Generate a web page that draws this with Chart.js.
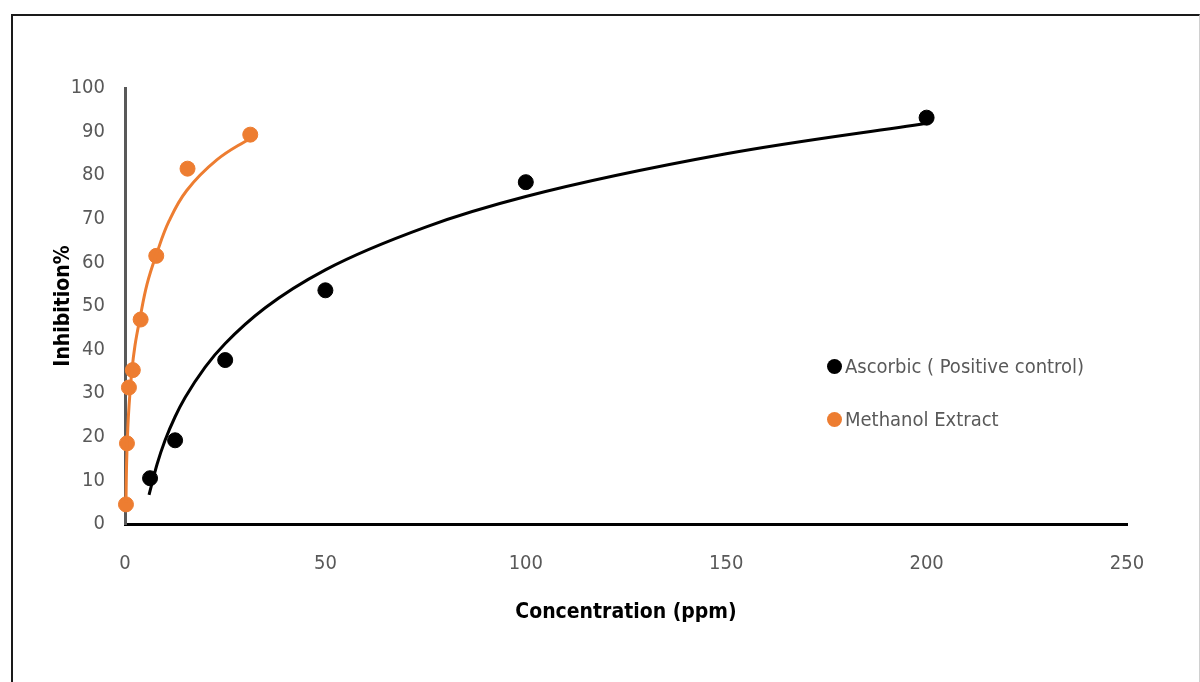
<!DOCTYPE html>
<html lang="en">
  <head>
    <meta charset="UTF-8" />
    <title>Inhibition vs Concentration</title>
    <script src="https://cdn.jsdelivr.net/npm/chart.js"></script>
    <style>
      body { margin: 0; background: #fff; }
      #wrap { position: relative; width: 1200px; height: 682px; overflow: hidden; }
      #frame {
        position: absolute; left: 11px; top: 14px; width: 1186px; height: 670px;
        border-left: 2px solid #1a1a1a; border-top: 2px solid #1a1a1a;
        border-right: 1px solid #d0d0d0; pointer-events: none;
      }
      .legend-item {
        position: absolute; font-family: "Liberation Sans Narrow", "DejaVu Sans Condensed", sans-serif;
        font-size: 20px; color: #595959; display: flex; align-items: center;
      }
      .legend-item span.dot {
        display: inline-block; width: 15px; height: 15px; border-radius: 50%; margin-right: 3px;
      }
    </style>
  </head>
  <body>
    <div id="wrap">
      <canvas id="chart" width="1200" height="682"></canvas>
      <div id="frame"></div>
      <div class="legend-item" style="left:827px; top:354px;"><span class="dot" style="background:#000"></span>Ascorbic ( Positive control)</div>
      <div class="legend-item" style="left:827px; top:407px;"><span class="dot" style="background:#ED7D31"></span>Methanol Extract</div>
    </div>

    <script>
// measured points
const ascorbicX = [6.25, 12.5, 25, 50, 100, 200];
const ascorbicY = [10.5, 19.2, 37.6, 53.6, 78.4, 93.2];

const methanolX = [0.24, 0.49, 0.98, 1.95, 3.9, 7.8, 15.6, 31.25];
const methanolY = [4.5, 18.5, 31.3, 35.3, 46.9, 61.5, 81.5, 89.3];

// trendlines
const ascTrendX = [6, 8, 10, 12.5, 15, 20, 25, 35, 50, 75, 100, 150, 200];
const ascTrendY = [6.7, 13.7, 19.2, 24.6, 29.0, 36.0, 41.4, 49.6, 58.3, 68.1, 75.1, 84.9, 91.9];

const metTrendX = [0.24, 0.4, 0.7, 1, 1.7, 2.5, 3.7, 5.5, 7.9, 11, 15.4, 22.9, 31.25];
const metTrendY = [5, 14, 22, 27, 35, 41, 47, 55, 62, 69.5, 76.5, 83.5, 88.5];

const xTicks = [0, 50, 100, 150, 200, 250];
const yTicks = [0, 10, 20, 30, 40, 50, 60, 70, 80, 90, 100];

const toPts = (xs, ys) => xs.map((x, i) => ({ x: x, y: ys[i] }));

const tickFont = { family: '"Liberation Sans Narrow", "DejaVu Sans Condensed", sans-serif', size: 20 };
const titleFont = { family: '"Liberation Sans Narrow", "DejaVu Sans Condensed", sans-serif', size: 21, weight: 'bold' };

new Chart(document.getElementById('chart'), {
  type: 'scatter',
  data: {
    datasets: [
      {
        label: 'Ascorbic trend',
        type: 'line',
        data: toPts(ascTrendX, ascTrendY),
        borderColor: '#000',
        borderWidth: 3,
        pointRadius: 0,
        cubicInterpolationMode: 'monotone',
        clip: false
      },
      {
        label: 'Methanol trend',
        type: 'line',
        data: toPts(metTrendX, metTrendY),
        borderColor: '#ED7D31',
        borderWidth: 3,
        pointRadius: 0,
        tension: 0.4,
        clip: false
      },
      {
        label: 'Ascorbic ( Positive control)',
        data: toPts(ascorbicX, ascorbicY),
        backgroundColor: '#000',
        borderColor: '#000',
        pointRadius: 7.5,
        clip: false
      },
      {
        label: 'Methanol Extract',
        data: toPts(methanolX, methanolY),
        backgroundColor: '#ED7D31',
        borderColor: '#ED7D31',
        pointRadius: 7.5,
        clip: false
      }
    ]
  },
  options: {
    responsive: false,
    animation: false,
    layout: { padding: { left: 0, right: 73, top: 88, bottom: 0 } },
    plugins: {
      legend: { display: false },
      tooltip: { enabled: false }
    },
    scales: {
      x: {
        type: 'linear',
        min: 0,
        max: 250,
        afterBuildTicks: (s) => { s.ticks = xTicks.map(v => ({ value: v })); },
        afterFit: (s) => { s.height = 158; },
        grid: { display: false, drawTicks: false },
        border: { color: '#000', width: 3 },
        ticks: { font: tickFont, color: '#595959', padding: 28 },
        title: {
          display: true,
          text: 'Concentration (ppm)',
          font: titleFont,
          color: '#000',
          padding: { top: 0, bottom: 57 }
        }
      },
      y: {
        type: 'linear',
        min: 0,
        max: 100,
        afterBuildTicks: (s) => { s.ticks = yTicks.map(v => ({ value: v })); },
        afterFit: (s) => { s.width = 125; },
        grid: { display: false, drawTicks: false },
        border: { color: '#595959', width: 3 },
        ticks: { font: tickFont, color: '#595959', padding: 20 },
        title: {
          display: true,
          text: 'Inhibition%',
          font: titleFont,
          color: '#000',
          padding: { top: 51, bottom: 0 }
        }
      }
    }
  }
});
    </script>
  </body>
</html>
